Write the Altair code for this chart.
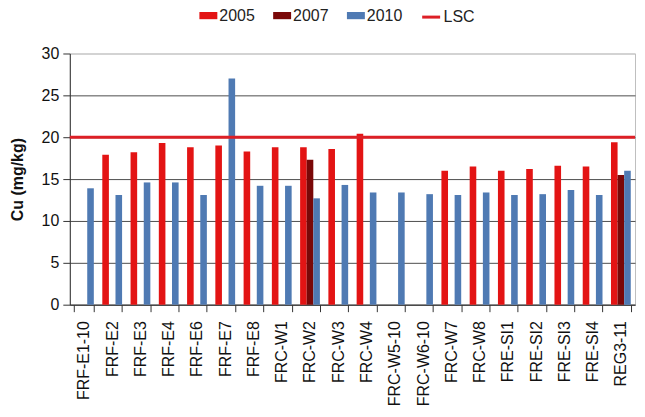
import altair as alt
import pandas as pd

sites = ["FRF-E1-10", "FRF-E2", "FRF-E3", "FRF-E4", "FRF-E6", "FRF-E7", "FRF-E8",
         "FRC-W1", "FRC-W2", "FRC-W3", "FRC-W4", "FRC-W5-10", "FRC-W6-10", "FRC-W7",
         "FRC-W8", "FRE-SI1", "FRE-SI2", "FRE-SI3", "FRE-SI4", "REG3-11"]
years = ["2005", "2007", "2010"]
cu_2005 = [None, 17.9, 18.2, 19.3, 18.8, 19.0, 18.3, 18.8, 18.8, 18.6, 20.4,
           None, None, 16.0, 16.5, 16.0, 16.2, 16.6, 16.5, 19.4]
cu_2007 = [None, None, None, None, None, None, None, None, 17.3, None, None,
           None, None, None, None, None, None, None, None, 15.5]
cu_2010 = [13.9, 13.1, 14.6, 14.6, 13.1, 27.0, 14.2, 14.2, 12.7, 14.3, 13.4,
           13.4, 13.2, 13.1, 13.4, 13.1, 13.2, 13.7, 13.1, 16.0]
lsc_name = ["LSC"]
lsc_value = [20]
year_colors = ["#E31414", "#7A0808", "#4F7AB3"]
lsc_color = "#DD1F26"

rows = []
for i, s in enumerate(sites):
    for y, vals in zip(years, [cu_2005, cu_2007, cu_2010]):
        if vals[i] is not None:
            rows.append({"site": s, "year": y, "cu": vals[i]})
df = pd.DataFrame(rows)
lsc = pd.DataFrame({"name": lsc_name, "cu": lsc_value})

FONT = "Liberation Sans"

xscale = alt.Scale(domain=sites, paddingInner=0.3, paddingOuter=0.15)
yscale = alt.Scale(domain=[0, 30])

bars = alt.Chart(df).mark_bar().encode(
    x=alt.X("site:N", scale=xscale, sort=sites,
            axis=alt.Axis(title=None, labelAngle=-90, labelFontSize=16, labelFont=FONT,
                          labelColor="#111", tickBand="extent", tickSize=7,
                          tickColor="#333", domainColor="#333", labelPadding=9,
                          labelBaseline="middle", labelAlign="right", labelLimit=200)),
    xOffset=alt.XOffset("year:N", scale=alt.Scale(domain=years, paddingInner=0, paddingOuter=0)),
    y=alt.Y("cu:Q", scale=yscale,
            axis=alt.Axis(title="Cu (mg/kg)", values=[0, 5, 10, 15, 20, 25, 30],
                          labelFontSize=16, labelFont=FONT, labelColor="#111",
                          titleFontSize=16, titleFont=FONT, titleFontWeight="bold",
                          titleColor="#111", titlePadding=16,
                          tickSize=7, tickColor="#333", domainColor="#333",
                          labelPadding=4,
                          gridColor={"condition": {"test": "datum.value == 30", "value": "#c8c8c8"},
                                     "value": "#4d4d4d"})),
    color=alt.Color("year:N", scale=alt.Scale(domain=years, range=year_colors),
                    legend=alt.Legend(title=None, orient="none", legendX=130, legendY=-47,
                                      direction="horizontal",
                                      symbolType="M-1,-0.4H1V0.4H-1Z", symbolSize=324,
                                      symbolStrokeWidth=0, labelFontSize=16, labelFont=FONT,
                                      labelColor="#222", columnPadding=18, padding=0,
                                      labelOffset=2)),
)

rule = alt.Chart(lsc).mark_rule(strokeWidth=3).encode(
    y=alt.Y("cu:Q", scale=yscale),
    stroke=alt.Stroke("name:N", scale=alt.Scale(domain=lsc_name, range=[lsc_color]),
                      legend=alt.Legend(title=None, orient="none", legendX=352, legendY=-47,
                                        symbolType="stroke", symbolSize=324,
                                        symbolStrokeWidth=3, labelFontSize=16, labelFont=FONT,
                                        labelColor="#222", padding=0, labelOffset=2)),
)

chart = alt.layer(bars, rule).properties(
    width=567, height=252,
    autosize=alt.AutoSizeParams(type="none"),
    padding={"left": 62, "top": 45, "right": 2, "bottom": 100},
).configure_view(stroke="#bfbfbf")

chart.save("out.html", embed_options={"renderer": "svg", "actions": False})
